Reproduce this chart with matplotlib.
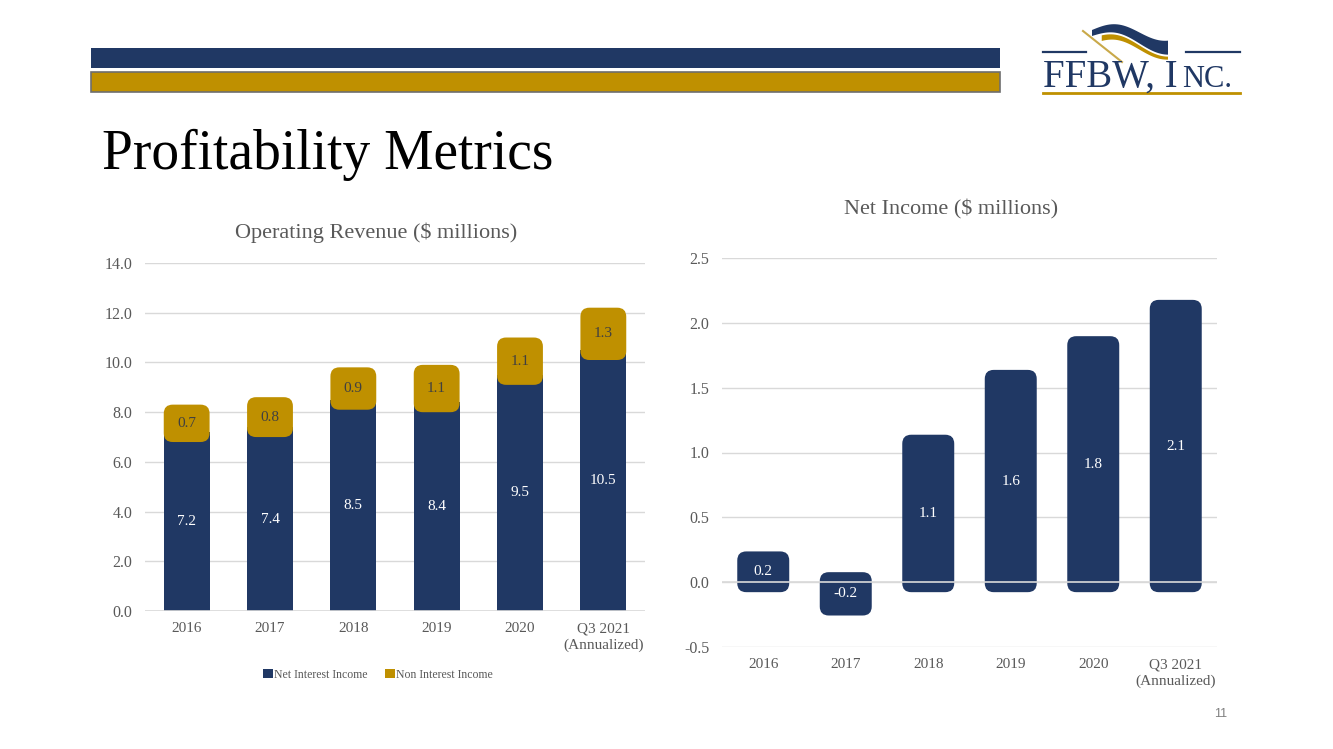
import numpy as np
import matplotlib
matplotlib.use("Agg")
import matplotlib.pyplot as plt
from matplotlib.patches import FancyBboxPatch, Rectangle, Polygon, Patch
from matplotlib.lines import Line2D

# ---- data ----
categories = ["2016", "2017", "2018", "2019", "2020", "Q3 2021\n(Annualized)"]
net_interest = [7.2, 7.4, 8.5, 8.4, 9.5, 10.5]
non_interest = [0.7, 0.8, 0.9, 1.1, 1.1, 1.3]
net_income = [0.16, -0.18, 1.06, 1.56, 1.82, 2.10]
rev_ticks = [0, 2, 4, 6, 8, 10, 12, 14]
inc_ticks = [-0.5, 0.0, 0.5, 1.0, 1.5, 2.0, 2.5]

NAVY = "#203864"
GOLD = "#BF9000"
GREY = "#595959"
GRID = "#d9d9d9"
W, H = 1333, 749

plt.rcParams['font.family'] = ['Liberation Serif', 'DejaVu Serif']

fig = plt.figure(figsize=(W / 100, H / 100), dpi=100)
fig.patch.set_facecolor("white")


def px(x, y):
    return (x / W, 1 - y / H)


def add_axes_px(left, top, right, bottom):
    return fig.add_axes([left / W, 1 - bottom / H, (right - left) / W, (bottom - top) / H])


def rounded_bar(ax, x, y0, y1, width, color, px_x, px_y, r_px=9, pad_px=10, z=3):
    r = r_px / px_x
    pad = pad_px / px_y
    lo, hi = min(y0, y1) - pad, max(y0, y1) + pad
    p = FancyBboxPatch((x - width / 2, lo), width, hi - lo,
                       boxstyle="round,pad=0,rounding_size=%f" % r,
                       mutation_aspect=px_x / px_y,
                       facecolor=color, edgecolor="none", zorder=z)
    ax.add_patch(p)
    return (lo + hi) / 2


def style_axes(ax):
    for s in ax.spines.values():
        s.set_visible(False)
    ax.tick_params(length=0, colors=GREY)
    ax.tick_params(axis="x", labelsize=11, pad=8)
    ax.tick_params(axis="y", labelsize=11.5, pad=9)
    ax.yaxis.grid(True, color=GRID, lw=1, zorder=0)
    ax.set_axisbelow(True)


# ---- header ----
fig.add_artist(Rectangle(px(91, 67.5), 909 / W, 19.5 / H, transform=fig.transFigure,
                         facecolor=NAVY, edgecolor="none"))
fig.add_artist(Rectangle(px(91, 91.5), 909 / W, 19.5 / H, transform=fig.transFigure,
                         facecolor=GOLD, edgecolor="#6e6e6e", lw=1.2))

# logo
fig.add_artist(Line2D([1043 / W, 1086 / W], [1 - 52 / H] * 2, color=NAVY, lw=1.6))
fig.add_artist(Line2D([1186 / W, 1240 / W], [1 - 52 / H] * 2, color=NAVY, lw=1.6))
fig.add_artist(Line2D([1043 / W, 1240 / W], [1 - 92.5 / H] * 2, color=GOLD, lw=2))
t = np.linspace(0, 1, 40)
xs = 1092 + 76 * t
top_n = 30 - 7 * np.sin(np.pi * t * 1.6) + 4 * t
bot_n = top_n + 6 + 8 * t
fig.add_artist(Polygon([px(a, b) for a, b in zip(xs, top_n)] +
                       [px(a, b) for a, b in zip(xs[::-1], bot_n[::-1])],
                       transform=fig.transFigure, facecolor=NAVY, edgecolor="none"))
top_g = bot_n + 2
bot_g = top_g + 6 - 3 * t
fig.add_artist(Polygon([px(a, b) for a, b in zip(xs[5:], top_g[5:])] +
                       [px(a, b) for a, b in zip(xs[5:][::-1], bot_g[5:][::-1])],
                       transform=fig.transFigure, facecolor=GOLD, edgecolor="none"))
fig.add_artist(Line2D([1083 / W, 1122 / W], [1 - 31 / H, 1 - 62 / H], color="#c9a94a", lw=1.5))
fig.text(1043 / W, 1 - 87 / H, "FFBW, I", fontsize=28, color=NAVY, ha="left", va="baseline")
fig.text(1182 / W, 1 - 87 / H, "NC.", fontsize=22, color=NAVY, ha="left", va="baseline")

fig.text(102 / W, 1 - 155 / H, "Profitability Metrics", fontsize=40, color="black",
         ha="left", va="center")

# ---- left chart: operating revenue ----
ax1 = add_axes_px(145, 263, 645, 611)
x = np.arange(len(categories))
px_x1, px_y1 = 500 / 6, 348 / 14
w1 = 0.55
for i in x:
    ax1.bar(i, net_interest[i], width=w1, color=NAVY, zorder=2)
    mid = rounded_bar(ax1, i, net_interest[i], net_interest[i] + non_interest[i], w1, GOLD,
                      px_x1, px_y1, r_px=9, pad_px=10)
    ax1.text(i, mid, "%.1f" % non_interest[i], ha="center", va="center", fontsize=11,
             color="#404040", zorder=5)
    ax1.text(i, net_interest[i] / 2, "%.1f" % net_interest[i], ha="center", va="center",
             fontsize=11, color="white", zorder=5)
ax1.axhline(0, color=GRID, lw=1.2, zorder=4)
ax1.set_xlim(-0.5, 5.5)
ax1.set_ylim(0, 14)
ax1.set_yticks(rev_ticks)
ax1.set_yticklabels(["%.1f" % v for v in rev_ticks])
ax1.set_xticks(x)
ax1.set_xticklabels(categories, linespacing=1.35)
style_axes(ax1)
fig.text(376 / W, 1 - 233 / H, "Operating Revenue ($ millions)", fontsize=16,
         color=GREY, ha="center", va="center")
leg = fig.legend(handles=[Patch(facecolor=NAVY, label="Net Interest Income"),
                          Patch(facecolor=GOLD, label="Non Interest Income")],
                 loc="center", bbox_to_anchor=(378 / W, 1 - 675 / H), ncol=2, frameon=False,
                 fontsize=8.5, handlelength=0.8, handleheight=0.8, handletextpad=0.1,
                 columnspacing=1.5, labelcolor=GREY)

# ---- right chart: net income ----
ax2 = add_axes_px(722, 258, 1217, 647)
px_x2, px_y2 = 495 / 6, 389 / 3
w2 = 0.63
for i in x:
    mid = rounded_bar(ax2, i, 0, net_income[i], w2, NAVY, px_x2, px_y2, r_px=9, pad_px=10)
    ax2.text(i, mid, "%.1f" % net_income[i], ha="center", va="center", fontsize=11,
             color="white", zorder=5)
ax2.axhline(0, color=GRID, lw=1.2, zorder=4)
ax2.set_xlim(-0.5, 5.5)
ax2.set_ylim(-0.5, 2.5)
ax2.set_yticks(inc_ticks)
ax2.set_yticklabels(["%.1f" % v for v in inc_ticks])
ax2.set_xticks(x)
ax2.set_xticklabels(categories, linespacing=1.35)
style_axes(ax2)
fig.text(951 / W, 1 - 209 / H, "Net Income ($ millions)", fontsize=16,
         color=GREY, ha="center", va="center")

fig.text(1221 / W, 1 - 714 / H, "11", fontsize=9, color="#808080", ha="center", va="center",
         family=["Liberation Sans", "DejaVu Sans"])

fig.savefig("out.png", dpi=100, facecolor="white")
